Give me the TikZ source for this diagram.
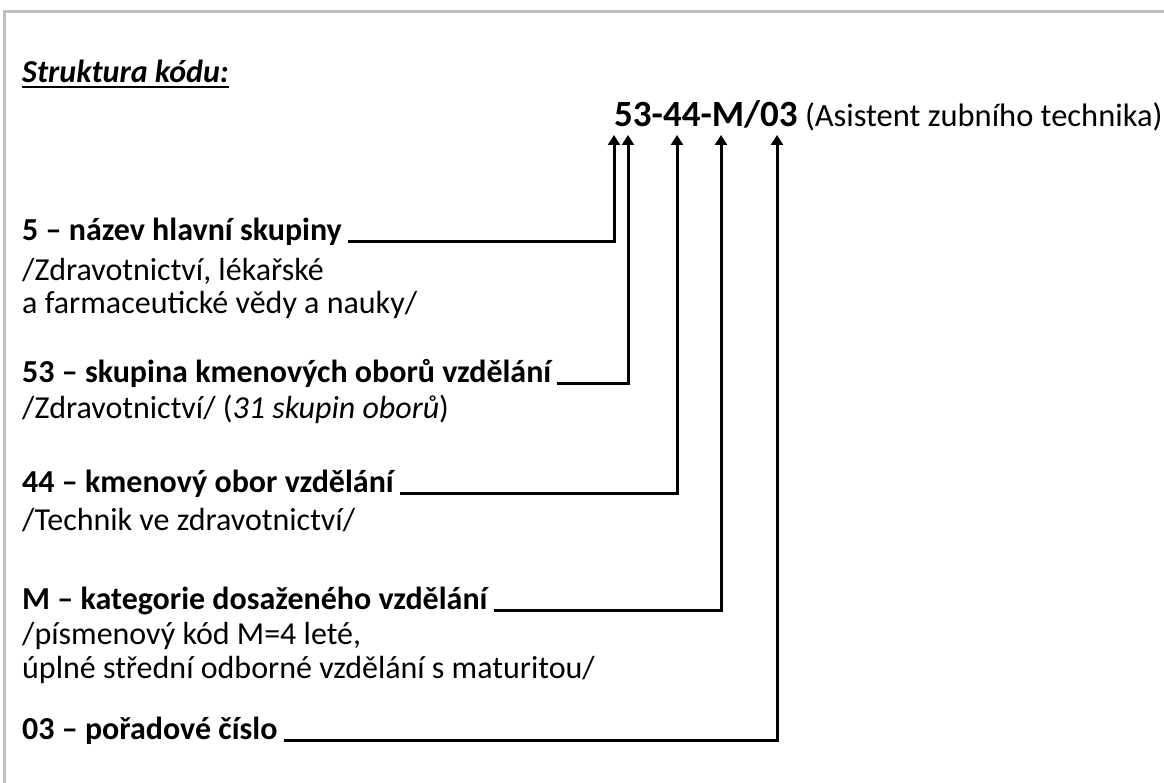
\documentclass[tikz,border=0pt]{standalone}
\usepackage{fontspec}
\setmainfont{Carlito}
\usetikzlibrary{arrows.meta}
\begin{document}
\begin{tikzpicture}[x=1pt,y=-1pt,
  lbl/.style={anchor=base west, inner sep=0pt, font=\fontsize{32}{39}\selectfont\bfseries},
  txt/.style={anchor=base west, inner sep=0pt, font=\fontsize{32}{39}\selectfont},
  conn/.style={line width=3pt, -{Triangle[length=10pt,width=12pt]}},
  frame/.style={line width=3pt, color=black!25},
]
\useasboundingbox (0,0) rectangle (1164,783);
\draw[frame] (4,790) -- (4,12) -- (1170,12);

% title
\node[anchor=base west, inner sep=0pt, font=\fontsize{32}{39}\selectfont\bfseries\itshape] (title) at (22,83) {Struktura kódu:};
\draw[line width=2.5pt] ([yshift=-4pt]title.base west) -- ([yshift=-4pt]title.base east);

% code
\node[anchor=base west, inner sep=0pt, font=\fontsize{37}{44}\selectfont\bfseries] (code) at (614,127) {53-44-M/03};
\node[anchor=base west, inner sep=0pt, font=\fontsize{32.5}{39}\selectfont] (name) at ([xshift=7pt]code.base east) {(Asistent zubního technika)};

% arrow tips
\coordinate (t1) at (614,135);
\coordinate (t2) at (628,135);
\coordinate (t3) at (677,135);
\coordinate (t4) at (721,135);
\coordinate (t5) at (777,135);

% group 1
\node[lbl] (h5) at (22,241) {5 – název hlavní skupiny};
\node[txt] (d5a) at (22,281) {/Zdravotnictví, lékařské};
\node[txt] (d5b) at (22,314) {a farmaceutické vědy a nauky/};

% group 2
\node[lbl] (h53) at (22,382) {53 – skupina kmenových oborů vzdělání};
\node[txt] (d53) at (22,418) {/Zdravotnictví/ (\textit{31 skupin oborů})};

% group 3
\node[lbl] (h44) at (22,492) {44 – kmenový obor vzdělání};
\node[txt] (d44) at (22,530) {/Technik ve zdravotnictví/};

% group 4
\node[lbl] (hM) at (22,609) {M – kategorie dosaženého vzdělání};
\node[txt] (dMa) at (22,644) {/písmenový kód M=4 leté,};
\node[txt] (dMb) at (22,678) {úplné střední odborné vzdělání s maturitou/};

% group 5
\node[lbl] (h03) at (22,739) {03 – pořadové číslo};

% connectors
\draw[conn] ([xshift=6pt,yshift=-1pt]h5.base east) -| (t1);
\draw[conn] ([xshift=6pt,yshift=-1pt]h53.base east) -| (t2);
\draw[conn] ([xshift=6pt,yshift=-1pt]h44.base east) -| (t3);
\draw[conn] ([xshift=6pt,yshift=-1pt]hM.base east) -| (t4);
\draw[conn] ([xshift=6pt,yshift=-1pt]h03.base east) -| (t5);
\end{tikzpicture}
\end{document}
